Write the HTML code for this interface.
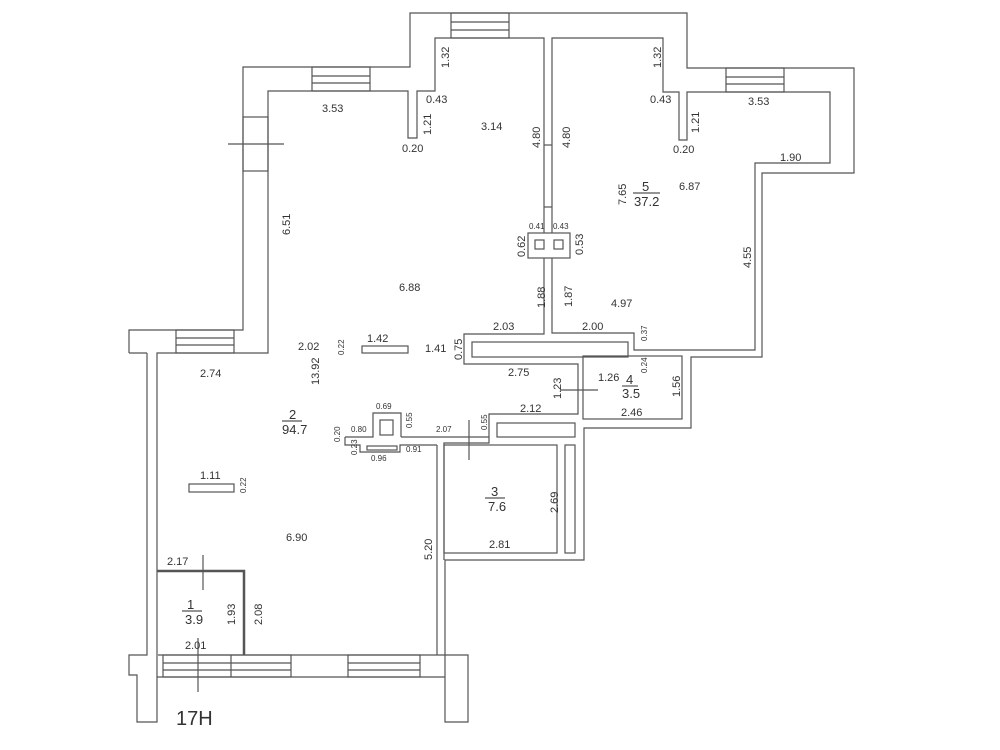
<!DOCTYPE html>
<html><head><meta charset="utf-8"><style>
html,body{margin:0;padding:0;background:#fff;}
svg{display:block}
text{font-family:"Liberation Sans",sans-serif;fill:#333;font-size:11px}
.s{font-size:8px}
.b{font-size:13px}
</style></head><body>
<svg width="1000" height="750" viewBox="0 0 1000 750" xmlns="http://www.w3.org/2000/svg">
<g fill="none" stroke="#555" stroke-width="1.2">
<polyline points="129,353 129,330 243,330 243,67 410,67 410,13 687,13 687,68 854,68 854,173 762,173 762,357 691,357 691,428 584,428 584,560 445,560 445,722 468,722 468,655 445,655"/>
<polyline points="147,353 147,655 129,655 129,675 137,675 137,722 157,722 157,677 445,677"/>
<line x1="129" y1="353" x2="147" y2="353"/>
<polyline points="157,677 157,353 268,353 268,91 408,91 408,138 417,138 417,91 435,91 435,38 544,38 544,233"/>
<polyline points="552,233 552,38 663,38 663,92 679,92 679,140 687,140 687,92 830,92 830,163 755,163 755,350 634,350 634,333 552,333 552,258"/>
<polyline points="544,258 544,334 464,334 464,364 578,364 578,414 489,414 489,443 444,443 444,560"/>
<rect x="528" y="233" width="42" height="25"/>
<rect x="535" y="240" width="9" height="9"/><rect x="554" y="240" width="9" height="9"/>
<rect x="472" y="342" width="156" height="15"/>
<rect x="583" y="356" width="99" height="63"/>
<rect x="497" y="423" width="78" height="14"/>
<rect x="565" y="445" width="10" height="108"/>
<rect x="444" y="445" width="113" height="108"/>
<polyline points="437,445 437,655"/>
<polyline points="401,437 489,437"/>
<polyline points="345,437 373,437 373,413 401,413 401,437"/>
<rect x="380" y="420" width="13" height="15"/>
<polyline points="345,437 345,445 360,445 360,452 400,452 400,445 437,445"/>
<rect x="367" y="446" width="30" height="4"/>
<rect x="362" y="346" width="46" height="7"/>
<rect x="189" y="484" width="45" height="8"/>
<rect x="312" y="67" width="58" height="24"/><line x1="312" y1="76" x2="370" y2="76"/><line x1="312" y1="83" x2="370" y2="83"/>
<rect x="451" y="13" width="58" height="25"/><line x1="451" y1="22" x2="509" y2="22"/><line x1="451" y1="30" x2="509" y2="30"/>
<rect x="726" y="68" width="58" height="24"/><line x1="726" y1="77" x2="784" y2="77"/><line x1="726" y1="84" x2="784" y2="84"/>
<rect x="176" y="330" width="58" height="23"/><line x1="176" y1="338" x2="234" y2="338"/><line x1="176" y1="345" x2="234" y2="345"/>
<rect x="243" y="117" width="25" height="54"/><line x1="228" y1="144" x2="284" y2="144"/>
<rect x="163" y="655" width="128" height="22"/><line x1="163" y1="663" x2="291" y2="663"/><line x1="163" y1="670" x2="291" y2="670"/><line x1="231" y1="655" x2="231" y2="677"/>
<rect x="348" y="655" width="72" height="22"/><line x1="348" y1="663" x2="420" y2="663"/><line x1="348" y1="670" x2="420" y2="670"/>
<line x1="158" y1="655" x2="445" y2="655"/>
<line x1="198" y1="638" x2="198" y2="692"/>
<polyline points="157,571 244,571 244,655" stroke-width="2.5"/>
<line x1="203" y1="555" x2="203" y2="590"/>
<line x1="469" y1="420" x2="469" y2="460"/>
<line x1="560" y1="390" x2="598" y2="390"/>
<line x1="544" y1="145" x2="552" y2="145"/><line x1="544" y1="207" x2="552" y2="207"/>
<line x1="282" y1="421" x2="302" y2="421"/><line x1="182" y1="611" x2="202" y2="611"/>
<line x1="485" y1="498" x2="505" y2="498"/><line x1="622" y1="386" x2="638" y2="386"/>
<line x1="633" y1="193" x2="660" y2="193"/>
</g>
<g>
<text x="322" y="112">3.53</text>
<text x="426" y="103">0.43</text><text x="402" y="152">0.20</text>
<text x="481" y="130">3.14</text>
<text x="650" y="103">0.43</text><text x="748" y="105">3.53</text><text x="673" y="153">0.20</text>
<text x="780" y="161">1.90</text><text x="679" y="190">6.87</text>
<text x="399" y="291">6.88</text><text x="611" y="307">4.97</text>
<text x="493" y="330">2.03</text><text x="582" y="330">2.00</text>
<text x="367" y="342">1.42</text><text x="298" y="350">2.02</text><text x="425" y="352">1.41</text>
<text x="200" y="377">2.74</text><text x="508" y="376">2.75</text>
<text x="598" y="381">1.26</text><text x="520" y="412">2.12</text><text x="621" y="416">2.46</text>
<text x="200" y="479">1.11</text><text x="286" y="541">6.90</text><text x="489" y="548">2.81</text>
<text x="167" y="565">2.17</text><text x="185" y="649">2.01</text>
<text class="s" x="376" y="409">0.69</text><text class="s" x="351" y="432">0.80</text><text class="s" x="436" y="432">2.07</text>
<text class="s" x="406" y="452">0.91</text><text class="s" x="371" y="461">0.96</text>
<text class="s" x="529" y="229">0.41</text><text class="s" x="553" y="229">0.43</text>
<text class="b" x="289" y="419">2</text><text class="b" x="282" y="434">94.7</text>
<text class="b" x="187" y="609">1</text><text class="b" x="185" y="624">3.9</text>
<text class="b" x="491" y="496">3</text><text class="b" x="488" y="511">7.6</text>
<text class="b" x="626" y="384">4</text><text class="b" x="622" y="398">3.5</text>
<text class="b" x="642" y="191">5</text><text class="b" x="634" y="206">37.2</text>
<text x="176" y="725" style="font-size:20px">17H</text>
</g>
<g>
<text transform="translate(449,68) rotate(-90)">1.32</text>
<text transform="translate(431,135) rotate(-90)">1.21</text>
<text transform="translate(540,148) rotate(-90)">4.80</text>
<text transform="translate(570,148) rotate(-90)">4.80</text>
<text transform="translate(661,68) rotate(-90)">1.32</text>
<text transform="translate(699,133) rotate(-90)">1.21</text>
<text transform="translate(290,235) rotate(-90)">6.51</text>
<text transform="translate(626,205) rotate(-90)">7.65</text>
<text transform="translate(525,257) rotate(-90)">0.62</text>
<text transform="translate(583,255) rotate(-90)">0.53</text>
<text transform="translate(751,268) rotate(-90)">4.55</text>
<text transform="translate(545,308) rotate(-90)">1.88</text>
<text transform="translate(572,307) rotate(-90)">1.87</text>
<text transform="translate(462,360) rotate(-90)">0.75</text>
<text transform="translate(319,385) rotate(-90)">13.92</text>
<text transform="translate(561,399) rotate(-90)">1.23</text>
<text transform="translate(680,397) rotate(-90)">1.56</text>
<text transform="translate(558,513) rotate(-90)">2.69</text>
<text transform="translate(432,560) rotate(-90)">5.20</text>
<text transform="translate(235,625) rotate(-90)">1.93</text>
<text transform="translate(262,625) rotate(-90)">2.08</text>
<text class="s" transform="translate(344,355) rotate(-90)">0.22</text>
<text class="s" transform="translate(647,341) rotate(-90)">0.37</text>
<text class="s" transform="translate(647,373) rotate(-90)">0.24</text>
<text class="s" transform="translate(412,428) rotate(-90)">0.55</text>
<text class="s" transform="translate(487,430) rotate(-90)">0.55</text>
<text class="s" transform="translate(340,442) rotate(-90)">0.20</text>
<text class="s" transform="translate(357,455) rotate(-90)">0.23</text>
<text class="s" transform="translate(246,493) rotate(-90)">0.22</text>
</g>
</svg>
</body></html>
